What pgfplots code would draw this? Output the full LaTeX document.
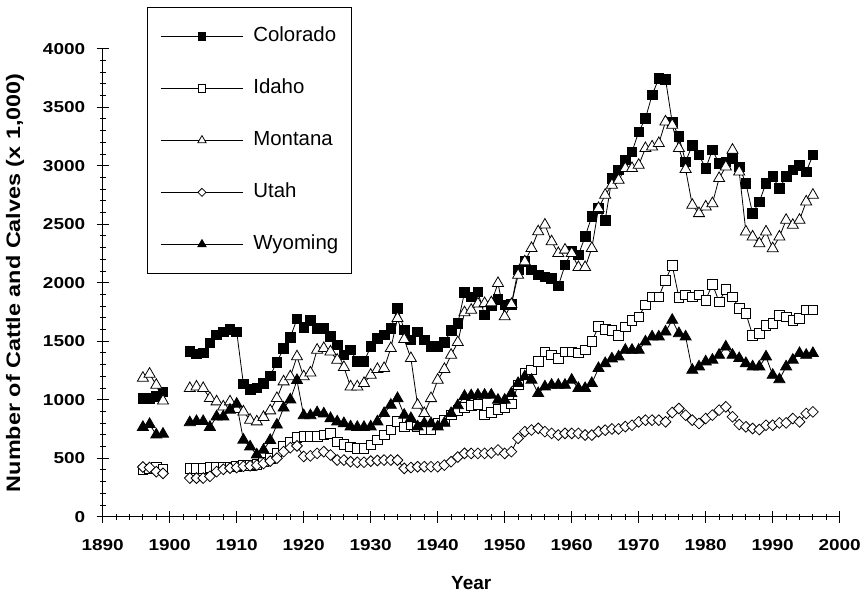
\documentclass[border=0pt]{standalone}
\usepackage{fontspec}
\setmainfont{Liberation Sans}
\newfontfamily\tickfont[FakeStretch=1.2]{Liberation Sans}
\usepackage{pgfplots}
\pgfplotsset{compat=1.18}
\usepackage{pgfplotstable}
\pgfplotstableread{
year co id mt ut wy
1896 1010 400 1185 425 765
1897 1010 410 1220 420 790
1898 1030 420 1125 385 700
1899 1065 410 990 370 707
1900 nan nan nan nan nan
1903 1415 415 1097 330 805
1904 1390 415 1110 330 815
1905 1400 415 1097 330 815
1906 1487 420 1012 345 765
1907 1553 420 983 385 855
1908 1580 425 940 405 855
1909 1600 425 983 415 912
1910 1580 430 918 420 963
1911 1135 440 897 430 656
1912 1090 440 826 435 598
1913 1100 445 812 440 530
1914 1140 470 850 455 570
1915 1205 500 906 475 653
1916 1320 540 1012 500 785
1917 1439 600 1154 556 930
1918 1533 640 1197 590 1000
1919 1690 680 1368 605 1165
1920 1620 684 1197 515 865
1921 1680 684 1230 520 865
1922 1610 684 1425 541 890
1923 1610 698 1439 556 880
1924 1539 712 1410 527 840
1925 1467 641 1339 484 812
1926 1382 618 1277 484 797
1927 1425 598 1111 470 769
1928 1325 584 1111 465 765
1929 1325 584 1140 465 765
1930 1453 612 1211 475 769
1931 1524 655 1260 480 812
1932 1553 698 1268 484 883
1933 1610 741 1439 484 954
1934 1780 812 1695 484 1011
1935 1596 769 1516 413 869
1936 1510 783 1353 420 840
1937 1581 769 954 427 769
1938 1510 741 883 427 797
1939 1453 741 1011 427 797
1940 1453 797 1168 427 769
1941 1490 826 1260 441 800
1942 1590 869 1382 470 883
1943 1653 910 1490 510 950
1944 1915 935 1745 541 1030
1945 1880 950 1766 541 1035
1946 1920 960 1820 541 1040
1947 1724 870 1823 541 1040
1948 1801 890 1830 545 1040
1949 1858 915 1995 570 997
1950 1809 930 1710 541 997
1951 1815 965 1815 556 1054
1952 2108 1125 2065 670 1140
1953 2180 1225 2180 727 1197
1954 2108 1254 2294 741 1168
1955 2065 1325 2437 755 1054
1956 2051 1410 2494 727 1111
1957 2037 1382 2351 712 1125
1958 1972 1353 2251 698 1125
1959 2151 1410 2280 712 1125
1960 2265 1410 2251 712 1168
1961 2237 1400 2131 712 1097
1962 2394 1424 2131 698 1097
1963 2565 1496 2294 698 1140
1964 2636 1624 2636 727 1268
1965 2535 1600 2749 739 1310
1966 2892 1590 2835 750 1350
1967 2963 1552 2877 750 1367
1968 3048 1623 2977 770 1424
1969 3119 1680 2977 782 1424
1970 3290 1709 3005 811 1424
1971 3404 1809 3148 825 1495
1972 3604 1880 3162 825 1538
1973 3746 1880 3191 825 1538
1974 3740 2022 3376 811 1580
1975 3370 2150 3347 890 1680
1976 3248 1874 3148 925 1566
1977 3034 1894 2970 868 1538
1978 3176 1880 2663 825 1253
1979 3091 1894 2592 797 1282
1980 2977 1851 2649 839 1325
1981 3134 1988 2677 868 1339
1982 3020 1837 2892 911 1381
1983 3034 1942 2991 939 1452
1984 3062 1880 3134 854 1381
1985 2991 1780 2948 788 1353
1986 2849 1737 2435 768 1310
1987 2592 1552 2392 754 1282
1988 2692 1566 2335 745 1282
1989 2849 1637 2435 782 1367
1990 2906 1652 2292 782 1210
1991 2806 1723 2392 802 1173
1992 2906 1709 2535 802 1282
1993 2963 1680 2492 839 1339
1994 3005 1695 2535 811 1396
1995 2948 1766 2692 882 1381
1996 3091 1766 2749 896 1396
}\cattle

\begin{document}
\begin{tikzpicture}
\path[use as bounding box] (-102.7pt,-82.3pt) rectangle (762.3pt,516.7pt);
\begin{axis}[
  at={(0pt,0pt)}, anchor=south west,
  scale only axis, width=737pt, height=468pt,
  xmin=1890, xmax=2000, ymin=0, ymax=4000,
  axis x line=bottom, axis y line=left,
  axis line style={line width=1.2pt, -},
  xtick={1890,1900,...,2000}, ytick={0,500,...,4000},
  minor x tick num=4, minor y tick num=4,
  tick align=center, major tick length=12pt, minor tick length=6pt,
  every tick/.style={black, line width=0.9pt},
  unbounded coords=jump,
  /pgf/number format/assume math mode=true,
  /pgf/number format/1000 sep={},
  tick label style={font=\fontsize{15.8}{18}\tickfont\bfseries},
  xticklabel style={anchor=center, yshift=-22pt},
  yticklabel style={anchor=east, xshift=-8pt},
  xlabel={Year},
  ylabel={Number of Cattle and Calves (x 1,000)},
  xlabel style={font=\fontsize{19}{22}\selectfont\bfseries, at={(axis description cs:0.5,-0.1417)}, anchor=center},
  ylabel style={font=\fontsize{19.5}{22}\tickfont\bfseries, at={(axis description cs:-0.119,0.5)}, anchor=center, rotate=0},
  legend image code/.code={\draw[mark repeat=2,mark phase=2,#1, every mark/.append style={scale=0.75}] plot coordinates {(0pt,0pt) (41pt,0pt) (82pt,0pt)};},
  legend style={at={(0.060,1.0897)}, anchor=north west, draw=black, line width=1.3pt,
    inner xsep=13pt, inner ysep=19pt, row sep=32pt, column sep=10pt,
    font=\fontsize{20.4}{24}\selectfont,
    nodes={inner sep=0pt, text height=15pt, text depth=5pt}},
  legend cell align=left,
]
\addplot[black, line width=0.8pt, mark=square*, mark size=4.8pt, mark options={solid, line width=0.8pt, fill=black}] table[x=year,y=co]{\cattle};
\addplot[black, line width=0.8pt, mark=square*, mark size=4.8pt, mark options={solid, line width=0.8pt, fill=white}] table[x=year,y=id]{\cattle};
\addplot[black, line width=0.8pt, mark=triangle*, mark size=6.4pt, mark options={solid, line width=0.8pt, fill=white}] table[x=year,y=mt]{\cattle};
\addplot[black, line width=0.8pt, mark=square*, mark size=3.8pt, mark options={solid, line width=0.8pt, fill=white, rotate=45}] table[x=year,y=ut]{\cattle};
\addplot[black, line width=0.8pt, mark=triangle*, mark size=6.4pt, mark options={solid, line width=0.8pt, fill=black}] table[x=year,y=wy]{\cattle};
\legend{Colorado,Idaho,Montana,Utah,Wyoming}
\end{axis}
\end{tikzpicture}
\end{document}
